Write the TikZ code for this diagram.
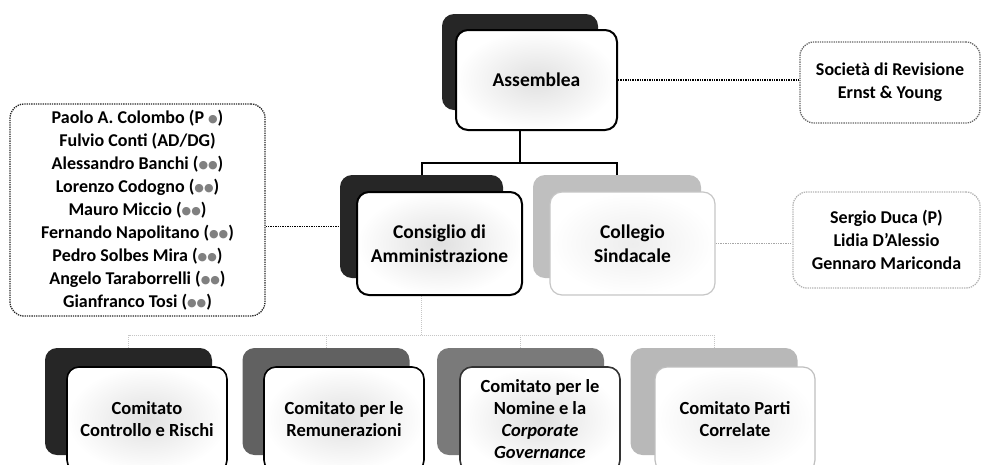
\documentclass[tikz,border=0pt]{standalone}
\usepackage{fontspec}
\setmainfont{Carlito}
\newfontfamily\symfont{DejaVu Sans}
\usetikzlibrary{backgrounds}

\newcommand{\cirs}{{\color{gray}\symfont\fontsize{11}{11}\selectfont\raisebox{0.5pt}{●●}}}
\newcommand{\cirone}{{\color{gray}\symfont\fontsize{11}{11}\selectfont\raisebox{0.5pt}{●}}}

\begin{document}
\begin{tikzpicture}[x=1pt,y=-1pt,
  backbox/.style={rounded corners=12pt, inner sep=0pt, fill=#1},
  backbox/.default={black!85},
  frontbox/.style={rounded corners=12pt, inner sep=0pt, draw=#1, line width=2pt,
    inner color=gray!24, outer color=white, align=center,
    font=\bfseries\fontsize{19.5}{24}\selectfont},
  frontbox/.default=black,
  lowbox/.style={frontbox=#1, line width=1.6pt, minimum width=160pt, minimum height=105pt,
    font=\bfseries\fontsize{18.5}{22}\selectfont},
  lowbox/.default=black,
  lowback/.style={backbox=#1, minimum width=167pt, minimum height=107pt},
  lowback/.default={black!85},
  memberbox/.style={rounded corners=14pt, draw=#1, densely dotted, line width=1.3pt,
    align=center, inner sep=0pt, font=\bfseries\fontsize{18}{23}\selectfont},
  tree/.style={line width=2pt},
  lowtree/.style={draw=gray!45, densely dotted, line width=1pt},
  link/.style={densely dotted, line width=1.4pt}]
\useasboundingbox (0,0) rectangle (982,464);

%Shape: Assemblea
\node [backbox, minimum width=156pt, minimum height=96pt] (assBack) at (520,62) {};
\node [frontbox, minimum width=161pt, minimum height=100pt] (ass) at (536.5,80) {Assemblea};

%Shape: Consiglio di Amministrazione
\node [backbox, minimum width=163pt, minimum height=103pt] (cdaBack) at (421.5,226.5) {};
\node [frontbox, minimum width=165pt, minimum height=103pt] (cda) at (439.5,243.5) {Consiglio di\\Amministrazione};

%Shape: Collegio Sindacale
\node [backbox=gray!50, minimum width=168pt, minimum height=103pt] (colBack) at (617,226.5) {};
\node [frontbox=gray!45, line width=1.2pt, inner color=gray!14, minimum width=165pt, minimum height=103pt] (col) at (632.5,243.5) {Collegio\\Sindacale};

%Shape: Comitati
\node [lowback] (crBack) at (128.5,401.5) {};
\node [lowbox] (cr) at (147,419.5) {Comitato\\Controllo e Rischi};
\node [lowback=black!62] (remBack) at (326,401.5) {};
\node [lowbox] (rem) at (344,419.5) {Comitato per le\\Remunerazioni};
\node [lowback=black!52] (nomBack) at (520.5,401.5) {};
\node [lowbox=black!80] (nom) at (540,419.5) {Comitato per le\\Nomine e la\\\textit{Corporate}\\\textit{Governance}};
\node [lowback=black!28] (pcBack) at (714,401.5) {};
\node [lowbox=gray!50, line width=1.2pt, inner color=gray!16] (pc) at (735,419.5) {Comitato Parti\\Correlate};

%Shape: member boxes
\node [memberbox=black!85, minimum width=255pt, minimum height=212pt] (board) at (137.5,210)
  {Paolo A. Colombo (P \cirone)\\Fulvio Conti (AD/DG)\\Alessandro Banchi (\cirs)\\
   Lorenzo Codogno (\cirs)\\Mauro Miccio (\cirs)\\Fernando Napolitano (\cirs)\\
   Pedro Solbes Mira (\cirs)\\Angelo Taraborrelli (\cirs)\\Gianfranco Tosi (\cirs)};
\node [memberbox=black!60, minimum width=180pt, minimum height=81pt] (soc) at (890,82.5)
  {Società di Revisione\\Ernst \& Young};
\node [memberbox=gray!60, minimum width=187pt, minimum height=96pt] (colm) at (886.5,240)
  {Sergio Duca (P)\\Lidia D'Alessio\\Gennaro Mariconda};

%Straight Lines
\coordinate (topbar) at (520,163);
\coordinate (lowbar) at (421.5,335);
\begin{scope}[on background layer]
\draw [tree] (ass.south -| topbar) -- (topbar);
\draw [tree] (cdaBack.north) |- (topbar) -| (colBack.north);
\draw [lowtree] (cda.south -| cdaBack.south) -- (lowbar);
\draw [lowtree] (crBack.north) |- (lowbar) -| (pcBack.north);
\draw [lowtree] (remBack.north) -- (remBack.north |- lowbar);
\draw [lowtree] (nomBack.north) -- (nomBack.north |- lowbar);
\end{scope}

%Dotted links
\draw [link] (ass.east) -- (ass.east -| soc.west);
\draw [link] (board.east |- cdaBack.west) -- (cdaBack.west);
\draw [link, draw=gray!70] (col.east) -- (col.east -| colm.west);
\end{tikzpicture}
\end{document}
